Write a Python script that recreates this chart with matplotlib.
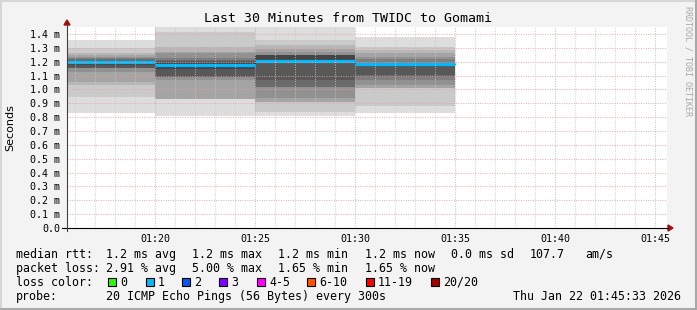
import matplotlib
matplotlib.use("Agg")
import matplotlib.pyplot as plt
from matplotlib.patches import Rectangle, Polygon
from matplotlib.lines import Line2D

# --- data (minutes after 01:00, seconds in ms) ---
seg_edges = [15.6, 20, 25, 30, 35]
median = [1.195, 1.175, 1.202, 1.185]
pings = [
    [0.827, 0.947, 1.032, 1.052, 1.128, 1.152, 1.152, 1.152, 1.18, 1.19,
     1.196, 1.20, 1.20, 1.217, 1.225, 1.236, 1.248, 1.26, 1.30, 1.356],
    [0.808, 0.929, 0.930, 0.932, 1.068, 1.090, 1.091, 1.092, 1.15, 1.17,
     1.18, 1.19, 1.205, 1.215, 1.224, 1.26, 1.27, 1.308, 1.416, 1.60],
    [0.808, 0.839, 0.907, 0.907, 0.936, 1.015, 1.015, 1.068, 1.19, 1.198,
     1.20, 1.248, 1.248, 1.248, 1.248, 1.272, 1.289, 1.320, 1.356, 1.50],
    [0.832, 0.880, 1.008, 1.008, 1.032, 1.068, 1.090, 1.104, 1.17, 1.18,
     1.186, 1.19, 1.19, 1.19, 1.217, 1.236, 1.26, 1.284, 1.308, 1.38],
]
xticks = [20, 25, 30, 35, 40, 45]
xticklabels = ["01:20", "01:25", "01:30", "01:35", "01:40", "01:45"]
yticks = [i / 10 for i in range(15)]
loss_labels = ["0", "1", "2", "3", "4-5", "6-10", "11-19", "20/20"]
loss_colors = ["#26ff00", "#00b8ff", "#0059ff", "#7e00ff", "#ff00ff",
               "#ff5500", "#ff0000", "#a00000"]

W, H = 697, 310
MONO = "DejaVu Sans Mono"


def fx(x):
    return x / W


def fy(y):
    return 1 - y / H


fig = plt.figure(figsize=(W / 100, H / 100), dpi=100, facecolor="#f3f3f3")
ax = fig.add_axes([fx(67), fy(228), 600 / W, (228 - 27.1) / H])
ax.set_facecolor("white")
ax.set_xlim(15.6, 45.6)
ax.set_ylim(0, 1.45)
for s in ax.spines.values():
    s.set_visible(False)

# smoke
n = len(pings[0])
half = n // 2
for k in range(half):
    lo = [p[k] for p in pings] + [pings[-1][k]]
    hi = [p[n - 1 - k] for p in pings] + [pings[-1][n - 1 - k]]
    g = int(190 / half * (half - (k + 1))) + 50
    ax.fill_between(seg_edges, lo, hi, step="post", color="#%02x%02x%02x" % (g, g, g),
                    linewidth=0, zorder=1)

# median
ax.step(seg_edges, median + [median[-1]], where="post", color="#202020", lw=0.7, zorder=2)
ax.hlines(median, seg_edges[:-1], seg_edges[1:], color=loss_colors[1], lw=2.3, zorder=3)

# grid
dots = (0, (0.72, 1.44))
for m in range(16, 46):
    c = "#e8a0a0" if m % 5 == 0 else "#c8c8c8"
    ax.axvline(m, color=c, lw=0.8, ls=dots, zorder=4)
for v in yticks[1:]:
    ax.axhline(v, color="#e8a0a0", lw=0.8, ls=dots, zorder=4)

ax.set_xticks(xticks)
ax.set_xticklabels(xticklabels, fontfamily=MONO, fontsize=7.2)
ax.set_yticks(yticks)
ax.set_yticklabels(["0.0"] + ["%.1f m" % v for v in yticks[1:]], fontfamily=MONO, fontsize=7.2)
ax.tick_params(length=0, pad=4.5)
ax.tick_params(axis="y", pad=5)

# axes with arrows
fig.add_artist(Line2D([fx(62), fx(668)], [fy(228), fy(228)], color="black", lw=0.8))
fig.add_artist(Line2D([fx(67), fx(67)], [fy(231), fy(24)], color="#404040", lw=0.8))
fig.add_artist(Polygon([(fx(668), fy(225)), (fx(668), fy(231)), (fx(673), fy(228))],
                       closed=True, color="#a01010"))
fig.add_artist(Polygon([(fx(64), fy(25)), (fx(70), fy(25)), (fx(67), fy(20))],
                       closed=True, color="#a01010"))

# title, labels
fig.text(fx(348), fy(19), "Last 30 Minutes from TWIDC to Gomami", ha="center", va="center",
         fontfamily=MONO, fontsize=9.5)
fig.text(fx(10), fy(128), "Seconds", rotation=90, ha="center", va="center",
         fontfamily="DejaVu Sans", fontsize=8)
fig.text(fx(688), fy(6), "RRDTOOL / TOBI OETIKER", rotation=-90, ha="center", va="top",
         fontfamily=MONO, fontsize=6, color="#a8a8a8")

# legend lines
rows = {"med": 254.3, "loss": 268.3, "col": 282.3, "probe": 296.3}
fs = 8.4
line1 = [(16, "median rtt:"), (106.5, "1.2 ms avg"), (192.5, "1.2 ms max"),
         (278.5, "1.2 ms min"), (365, "1.2 ms now"), (451, "0.0 ms sd"),
         (529.5, "107.7"), (585.5, "am/s")]
line2 = [(16, "packet loss:"), (106.5, "2.91 % avg"), (192.5, "5.00 % max"),
         (278.5, "1.65 % min"), (365, "1.65 % now")]
for x, t in line1:
    fig.text(fx(x), fy(rows["med"]), t, ha="left", va="center", fontfamily=MONO, fontsize=fs)
for x, t in line2:
    fig.text(fx(x), fy(rows["loss"]), t, ha="left", va="center", fontfamily=MONO, fontsize=fs)
fig.text(fx(16), fy(rows["col"]), "loss color:", ha="left", va="center", fontfamily=MONO, fontsize=fs)
box_x = [108, 145.7, 182.3, 219.3, 256.7, 307.3, 365.7, 430.7]
for bx, lab, col in zip(box_x, loss_labels, loss_colors):
    fig.add_artist(Rectangle((fx(bx), fy(rows["col"] + 4)), 8 / W, 8 / H,
                             facecolor=col, edgecolor="black", lw=0.8))
    fig.text(fx(bx + 12.3), fy(rows["col"]), lab, ha="left", va="center",
             fontfamily=MONO, fontsize=fs)
fig.text(fx(16), fy(rows["probe"]), "probe:", ha="left", va="center", fontfamily=MONO, fontsize=fs)
fig.text(fx(106.5), fy(rows["probe"]), "20 ICMP Echo Pings (56 Bytes) every 300s", ha="left",
         va="center", fontfamily=MONO, fontsize=fs)
fig.text(fx(681), fy(rows["probe"]), "Thu Jan 22 01:45:33 2026", ha="right", va="center",
         fontfamily=MONO, fontsize=fs)

# 3d frame
fig.add_artist(Line2D([0, 1], [fy(0.5), fy(0.5)], color="#d6d6d6", lw=1.4))
fig.add_artist(Line2D([fx(0.5), fx(0.5)], [0, 1], color="#d6d6d6", lw=1.4))
fig.add_artist(Line2D([0, 1], [fy(308.5), fy(308.5)], color="#a8a8a8", lw=2.2))
fig.add_artist(Line2D([fx(695.5), fx(695.5)], [0, 1], color="#a8a8a8", lw=2.2))

fig.savefig("out.png", dpi=100, facecolor=fig.get_facecolor())
